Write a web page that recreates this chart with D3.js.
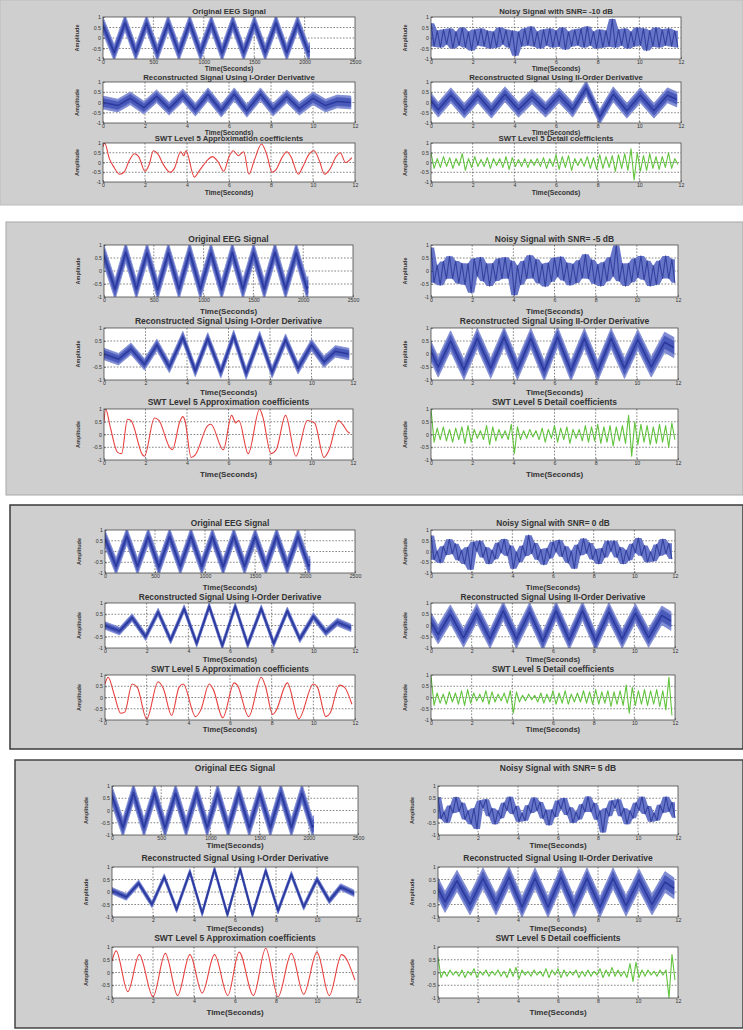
<!DOCTYPE html>
<html>
<head>
<meta charset="utf-8">
<script src="https://cdn.jsdelivr.net/npm/d3@7"></script>
<style>
html, body { margin: 0; padding: 0; background: #fff; }
svg { display: block; font-family: "Liberation Sans", Arial, sans-serif; }
</style>
</head>
<body>
<div id="chart"></div>
<script>
// ---- data ----
const snrLevels = ["-10", "-5", "0", "5"];
const yTicks = [-1, -0.5, 0, 0.5, 1];
const sampleTicks = [0, 500, 1000, 1500, 2000, 2500];
const secondTicks = [0, 2, 4, 6, 8, 10, 12];

// original EEG: turning points (sample index) and band centre
const eegSamples = [0, 111, 218, 325, 432, 539, 646, 753, 860, 967, 1074, 1181, 1288, 1395, 1502, 1609, 1716, 1823, 1930, 2037, 2048];
const eegMid = [0.6, -0.7, 0.72, -0.7, 0.7, -0.72, 0.7, -0.7, 0.72, -0.7, 0.7, -0.72, 0.72, -0.7, 0.7, -0.7, 0.72, -0.7, 0.7, -0.68, -0.6];
const eegSpread = 0.3;

// noisy signals, one sample every 0.15 s
const noisyStep = 0.15;
const noisyM10 = [0.7,-0.4,0.35,-0.45,0.4,-0.3,0.45,-0.5,0.3,-0.35, 0.5,-0.45,0.3,-0.6,0.4,-0.35,0.45,-0.4,0.35,-0.5,
  0.3,-0.45,0.5,-0.3,0.4,-0.45,0.35,-0.85,0.3,-0.4, 0.45,-0.35,0.55,-0.4,0.3,-0.5,0.4,-0.35,0.45,-0.45,
  0.35,-0.4,0.5,-0.55,0.3,-0.4,0.4,-0.35,0.45,-0.45, 0.55,-0.35,0.3,-0.5,0.4,-0.45,0.35,-0.4,0.9,-0.45,
  0.4,-0.35,0.45,-0.5,0.3,-0.4,0.5,-0.35,0.45,-0.6, 0.35,-0.4,0.5,-0.45,0.4,-0.35,0.45,-0.4,0.35,-0.45];
const noisyM5 = [0.9,-0.45,0.22,-0.55,0.37,-0.3,0.57,-0.3,0.38,-0.48, 0.3,-0.53,0.29,-0.84,0.48,-0.2,0.53,-0.39,0.29,-0.58,
  0.3,-0.38,0.48,-0.3,0.53,-0.29,0.39,-0.93,0.2,-0.53, 0.38,-0.3,0.61,-0.28,0.45,-0.47,0.27,-0.6,0.32,-0.41,
  0.51,-0.22,0.55,-0.37,0.32,-0.55,0.27,-0.46,0.41,-0.28, 0.64,-0.3,0.43,-0.49,0.25,-0.58,0.34,-0.39,0.53,-0.2,
  0.98,-0.39,0.29,-0.58,0.3,-0.43,0.48,-0.25,0.58,-0.34, 0.39,-0.58,0.2,-0.53,0.39,-0.29,0.58,-0.29,0.45,-0.45];
const noisy0 = [0.75,-0.38,0.02,-0.53,0.25,-0.16,0.57,-0.11,0.36,-0.41, 0.06,-0.58,0.2,-0.85,0.45,0.02,0.5,-0.28,0.2,-0.58,
  0.06,-0.36,0.41,-0.06,0.58,-0.2,0.28,-0.8,-0.02,-0.5, 0.27,-0.21,0.76,-0.09,0.39,-0.38,0.1,-0.62,0.15,-0.32,
  0.45,-0.02,0.54,-0.24,0.24,-0.54,0.02,-0.8,0.31,-0.17, 0.6,-0.08,0.4,-0.37,0.11,-0.58,0.15,-0.28,0.5,0.02,
  0.5,-0.28,0.2,-0.58,0.06,-0.41,0.36,-0.06,0.63,-0.2, 0.28,-0.5,-0.02,-0.45,0.33,-0.2,0.58,-0.11,0.38,-0.35];
const noisyP5 = [0.55,-0.34,-0.06,-0.5,0.2,-0.1,0.55,-0.04,0.32,-0.37, -0.01,-0.56,0.09,-0.75,0.41,0.1,0.46,-0.23,0.09,-0.56,
  -0.01,-0.32,0.32,0.01,0.56,-0.14,0.18,-0.46,-0.1,-0.42, 0.21,-0.1,0.53,-0.01,0.35,-0.33,0.03,-0.6,0.04,-0.27,
  0.41,0.06,0.51,-0.18,0.13,-0.51,-0.06,-0.37,0.26,-0.06, 0.57,-0.06,0.31,-0.38,-0.01,-0.9,0.09,-0.23,0.41,0.1,
  0.46,-0.23,0.09,-0.56,-0.01,-0.32,0.32,0.01,0.56,-0.14, 0.18,-0.46,-0.1,-0.41,0.23,-0.09,0.56,-0.04,0.34,-0.3];

// reconstructed with I-order derivative: turning points (s) and band centre
const firstOrderTimes = [0, 0.7, 1.3, 1.95, 2.55, 3.15, 3.8, 4.4, 5.0, 5.63, 6.25, 6.85, 7.5, 8.1, 8.75, 9.35, 10.0, 10.6, 11.15, 11.8];
const firstOrderM10 = [0.0,-0.15,0.2,-0.25,0.3,-0.3,0.35,-0.35,0.4,-0.4,0.4,-0.4,0.4,-0.35,0.3,-0.3,0.2,-0.15,0.05,0.0];
const firstOrderM5 = [0.0,-0.2,0.2,-0.4,0.35,-0.5,0.65,-0.65,0.6,-0.7,0.7,-0.75,0.65,-0.7,0.55,-0.55,0.35,-0.3,0.1,0.0];
const firstOrder0 = [0.0,-0.25,0.35,-0.5,0.6,-0.65,0.75,-0.8,0.85,-0.9,0.85,-0.85,0.75,-0.8,0.65,-0.6,0.4,-0.3,0.15,-0.1];
const firstOrderP5 = [0.05,-0.2,0.35,-0.5,0.6,-0.7,0.8,-0.85,0.9,-0.9,0.92,-0.9,0.85,-0.75,0.7,-0.6,0.5,-0.35,0.2,-0.05];
const firstOrderSpread = [0.24, 0.17, 0.13, 0.1];

// reconstructed with II-order derivative
const secondOrderTimes = [0, 0.35, 0.95, 1.6, 2.25, 2.9, 3.55, 4.2, 4.85, 5.5, 6.15, 6.8, 7.45, 8.1, 8.75, 9.4, 10.05, 10.7, 11.35, 11.8];
const secondOrderM10 = [0.1,-0.35,0.35,-0.4,0.35,-0.4,0.4,-0.35,0.3,-0.35,0.35,-0.35,0.7,-0.7,0.4,-0.4,0.35,-0.4,0.35,0.15];
const secondOrderM5 = [0.1,-0.5,0.5,-0.6,0.6,-0.55,0.65,-0.6,0.6,-0.65,0.65,-0.65,0.6,-0.65,0.6,-0.55,0.55,-0.5,0.45,0.25];
const secondOrder0 = [0.15,-0.4,0.5,-0.55,0.55,-0.6,0.65,-0.6,0.6,-0.7,0.65,-0.65,0.65,-0.7,0.6,-0.6,0.55,-0.55,0.45,0.2];
const secondOrderP5 = [0.15,-0.4,0.45,-0.5,0.55,-0.5,0.6,-0.6,0.55,-0.6,0.6,-0.6,0.55,-0.6,0.55,-0.55,0.5,-0.5,0.4,0.15];
const secondOrderSpread = [0.28, 0.3, 0.32, 0.32];

// SWT level 5 approximation coefficients: [time, value]
const approxM10 = [[0,0.8],[0.08,1.0],[0.3,0.2],[0.5,-0.2],[0.8,-0.6],[1.0,-0.5],[1.25,0.1],[1.5,0.45],[1.7,0.3],[2.0,-0.45],
  [2.2,-0.1],[2.4,0.6],[2.6,0.45],[2.9,-0.15],[3.2,-0.5],[3.4,-0.3],[3.7,0.55],[3.85,0.35],[3.95,0.6],[4.35,-0.75],
  [4.6,-0.4],[5.0,0.15],[5.2,0.3],[5.5,0.0],[5.75,-0.45],[6.0,0.3],[6.2,0.6],[6.45,0.35],[6.7,0.55],[6.95,-0.6],
  [7.2,0.1],[7.55,0.95],[7.8,0.4],[8.05,-0.5],[8.25,-0.35],[8.5,0.2],[8.75,0.55],[8.95,0.3],[9.3,-0.6],[9.5,-0.25],
  [9.8,0.4],[10.05,0.6],[10.3,0.1],[10.55,-0.6],[10.8,-0.35],[11.1,0.3],[11.3,0.5],[11.55,0.0],[11.85,0.25]];
const approxM5 = [[0,0.5],[0.08,1.0],[0.3,0.3],[0.65,-0.7],[0.85,-0.75],[1.13,0.6],[1.3,0.55],[1.86,-0.8],[1.95,-0.85],[2.43,0.65],
  [2.65,0.55],[3.16,-0.5],[3.3,-0.6],[3.65,0.5],[3.8,0.7],[3.9,0.55],[4.2,-0.9],[4.4,-0.8],[5.0,0.35],[5.15,0.4],
  [5.75,-0.6],[6.15,0.75],[6.35,0.45],[6.5,0.55],[6.95,-0.75],[7.5,1.0],[7.65,0.7],[8.05,-0.75],[8.3,-0.6],[8.75,0.75],
  [9.25,-0.85],[9.8,0.55],[10.15,0.45],[10.6,-0.9],[10.85,-0.6],[11.3,0.55],[11.5,0.4],[11.75,0.1],[11.85,0.05]];
const approx0 = [[0,0.6],[0.15,0.9],[0.45,0.1],[0.75,-0.7],[0.95,-0.65],[1.3,0.6],[1.55,0.45],[2.0,-0.95],[2.55,0.7],[2.8,0.4],
  [3.2,-0.8],[3.55,0.45],[3.75,0.6],[4.35,-0.85],[4.6,-0.55],[5.0,0.6],[5.2,0.35],[5.65,-0.9],[6.2,0.65],[6.35,0.55],
  [6.9,-0.85],[7.5,0.9],[7.7,0.5],[8.05,-0.75],[8.2,-0.6],[8.75,0.65],[9.3,-0.95],[10.0,0.6],[10.2,0.45],[10.6,-0.85],
  [10.8,-0.7],[11.25,0.55],[11.5,0.45],[11.85,-0.3]];
const approxP5 = [[0,0.45],[0.2,0.85],[0.77,-0.75],[1.33,0.7],[2.0,-0.95],[2.6,0.75],[3.2,-0.9],[3.8,0.7],[4.4,-0.8],[5.0,0.7],
  [5.65,-0.9],[6.2,0.8],[6.9,-0.9],[7.5,0.95],[8.1,-0.95],[8.75,0.75],[9.35,-0.85],[10.0,0.8],[10.6,-0.9],[11.2,0.7],[11.85,-0.3]];

// SWT level 5 detail coefficients, one sample every 0.15 s
const detailM10 = [0.5,-0.3,0.2,-0.25,0.3,-0.2,0.25,-0.3,0.2,-0.15, 0.45,-0.4,0.2,-0.25,0.3,-0.2,0.15,-0.2,0.25,-0.3,
  0.2,-0.15,0.2,-0.25,0.3,-0.35,0.25,-0.2,0.15,-0.2, 0.2,-0.25,0.15,-0.15,0.2,-0.2,0.25,-0.3,0.2,-0.2,
  0.4,-0.35,0.3,-0.25,0.35,-0.4,0.2,-0.15,0.2,-0.2, 0.3,-0.3,0.25,-0.35,0.4,-0.3,0.3,-0.25,0.35,-0.45,
  0.4,-0.3,0.45,-0.4,0.7,-0.9,0.5,-0.45,0.35,-0.4, 0.45,-0.3,0.3,-0.35,0.3,-0.25,0.5,-0.3,0.2,-0.1];
const detailM5 = [1.0,-0.3,0.25,-0.2,0.3,-0.25,0.2,-0.3,0.25,-0.2, 0.3,-0.35,0.35,-0.3,0.2,-0.15,0.15,-0.2,0.35,-0.4,
  0.3,-0.25,0.2,-0.15,0.15,-0.2,0.4,-0.75,0.3,-0.2, 0.15,-0.15,0.2,-0.1,0.15,-0.2,0.25,-0.3,0.2,-0.15,
  0.35,-0.3,0.25,-0.2,0.3,-0.35,0.2,-0.15,0.2,-0.25, 0.35,-0.3,0.3,-0.25,0.4,-0.35,0.3,-0.3,0.35,-0.45,
  0.3,-0.25,0.35,-0.35,0.75,-0.85,0.5,-0.4,0.4,-0.3, 0.35,-0.4,0.3,-0.35,0.4,-0.3,0.35,-0.5,0.45,-0.2];
const detail0 = [0.95,-0.35,0.2,-0.25,0.15,-0.3,0.25,-0.2,0.2,-0.3, 0.3,-0.35,0.35,-0.25,0.2,-0.15,0.15,-0.2,0.3,-0.3,
  0.25,-0.2,0.15,-0.15,0.2,-0.25,0.3,-0.7,0.25,-0.2, 0.1,-0.15,0.15,-0.1,0.1,-0.2,0.2,-0.25,0.15,-0.2,
  0.3,-0.3,0.2,-0.25,0.3,-0.3,0.15,-0.2,0.2,-0.2, 0.3,-0.25,0.25,-0.3,0.35,-0.3,0.25,-0.25,0.3,-0.4,
  0.25,-0.3,0.3,-0.35,0.55,-0.7,0.45,-0.35,0.3,-0.3, 0.35,-0.35,0.3,-0.3,0.35,-0.4,0.3,-0.55,0.9,-0.8];
const detailP5 = [0.6,-0.2,0.05,-0.15,0.1,-0.1,0.05,-0.15,0.1,-0.2, 0.05,-0.1,0.15,-0.2,0.05,-0.1,0.1,-0.15,0.05,-0.1,
  0.1,-0.15,0.05,-0.2,0.15,-0.15,0.2,-0.25,0.1,-0.1, 0.05,-0.15,0.1,-0.1,0.05,-0.15,0.15,-0.2,0.1,-0.1,
  0.15,-0.2,0.1,-0.15,0.05,-0.1,0.1,-0.2,0.05,-0.15, 0.1,-0.15,0.05,-0.1,0.15,-0.2,0.1,-0.15,0.2,-0.15,
  0.1,-0.15,0.05,-0.2,0.35,-0.35,0.4,-0.2,0.1,-0.15, 0.1,-0.1,0.05,-0.15,0.1,-0.1,0.1,-1.0,0.7,-0.3];

const noisyAll = [noisyM10, noisyM5, noisy0, noisyP5];
const firstOrderAll = [firstOrderM10, firstOrderM5, firstOrder0, firstOrderP5];
const secondOrderAll = [secondOrderM10, secondOrderM5, secondOrder0, secondOrderP5];
const approxAll = [approxM10, approxM5, approx0, approxP5];
const detailAll = [detailM10, detailM5, detail0, detailP5];

// ---- layout of the four screenshot panels ----
const panels = [
  { frame: [0, 0, 743, 205], stroke: "#bcbcbc", sw: 1, left: [103, 355], right: [431, 681], titleSize: 7.8, labelSize: 6.8,
    rows: [{ top: 17, bot: 59, title: 14, xlab: 70.5 }, { top: 82, bot: 123, title: 79.5, xlab: 134.5 }, { top: 143, bot: 182, title: 141, xlab: 195 }] },
  { frame: [6, 222, 737, 273], stroke: "#a8a8a8", sw: 1, left: [104, 353], right: [431, 678], titleSize: 8.5, labelSize: 8,
    rows: [{ top: 245, bot: 297, title: 242, xlab: 314 }, { top: 328, bot: 380, title: 324, xlab: 395 }, { top: 409, bot: 460, title: 405, xlab: 477 }] },
  { frame: [10, 505, 733, 244], stroke: "#3a3a3a", sw: 1.5, left: [105, 355], right: [431, 675], titleSize: 8.3, labelSize: 7.6,
    rows: [{ top: 530, bot: 573, title: 526, xlab: 590 }, { top: 603, bot: 648, title: 600, xlab: 662 }, { top: 675, bot: 720, title: 671.5, xlab: 732 }] },
  { frame: [15, 760, 728, 268], stroke: "#444", sw: 1.5, left: [112, 358], right: [438, 678], titleSize: 8.5, labelSize: 8,
    rows: [{ top: 786, bot: 835, title: 771, xlab: 848 }, { top: 867, bot: 917, title: 861, xlab: 931 }, { top: 947, bot: 998, title: 941, xlab: 1015 }] }
];

const blueHalo = "#7f8bd3", blueFill = "#4a5aba", blueCore = "#2c3a9e";

const svg = d3.select("#chart").append("svg")
  .attr("width", 743)
  .attr("height", 1030);

let clipCount = 0;

// one subplot: frame, grid, signal via callback, axes, labels
function subplot(p, xr, row, xDomain, xTicks, title, drawSignal) {
  const x = d3.scaleLinear().domain(xDomain).range(xr);
  const y = d3.scaleLinear().domain([-1, 1]).range([row.bot, row.top]);
  const g = svg.append("g");

  g.append("rect")
    .attr("x", xr[0]).attr("y", row.top)
    .attr("width", xr[1] - xr[0]).attr("height", row.bot - row.top)
    .attr("fill", "#fff");

  const grid = g.append("g")
    .attr("stroke", "#333")
    .attr("stroke-width", 0.6)
    .attr("stroke-dasharray", "1.6,1.6");
  grid.selectAll(".gx").data(xTicks.slice(1, -1)).enter().append("line")
    .attr("x1", d => x(d)).attr("x2", d => x(d))
    .attr("y1", row.top).attr("y2", row.bot);
  grid.selectAll(".gy").data(yTicks.slice(1, -1)).enter().append("line")
    .attr("x1", xr[0]).attr("x2", xr[1])
    .attr("y1", d => y(d)).attr("y2", d => y(d));

  const id = "clip" + (clipCount++);
  g.append("clipPath").attr("id", id).append("rect")
    .attr("x", xr[0]).attr("y", row.top)
    .attr("width", xr[1] - xr[0]).attr("height", row.bot - row.top);
  const layer = g.append("g").attr("clip-path", `url(#${id})`);
  drawSignal(layer, x, y);

  g.append("rect")
    .attr("x", xr[0]).attr("y", row.top)
    .attr("width", xr[1] - xr[0]).attr("height", row.bot - row.top)
    .attr("fill", "none").attr("stroke", "#333").attr("stroke-width", 0.7);

  const xAxis = g.append("g")
    .attr("transform", `translate(0,${row.bot})`)
    .call(d3.axisBottom(x).tickValues(xTicks).tickSize(-2).tickPadding(1.5).tickFormat(d3.format("d")));
  const yAxis = g.append("g")
    .attr("transform", `translate(${xr[0]},0)`)
    .call(d3.axisLeft(y).tickValues(yTicks).tickSize(-2).tickPadding(2).tickFormat(d => String(d)));
  [xAxis, yAxis].forEach(a => {
    a.select(".domain").remove();
    a.attr("font-family", null).attr("font-size", 5.2);
    a.selectAll("line").attr("stroke", "#333").attr("stroke-width", 0.5);
    a.selectAll("text").attr("fill", "#333");
  });

  const cx = (xr[0] + xr[1]) / 2;
  g.append("text")
    .attr("x", cx).attr("y", row.title)
    .attr("text-anchor", "middle")
    .attr("font-size", p.titleSize).attr("font-weight", "bold").attr("fill", "#333")
    .text(title);
  g.append("text")
    .attr("x", cx).attr("y", row.xlab)
    .attr("text-anchor", "middle")
    .attr("font-size", p.labelSize).attr("font-weight", "bold").attr("fill", "#333")
    .text("Time(Seconds)");
  g.append("text")
    .attr("transform", `translate(${xr[0] - 24},${(row.top + row.bot) / 2}) rotate(-90)`)
    .attr("text-anchor", "middle")
    .attr("font-size", 5.5).attr("font-weight", "bold").attr("fill", "#333")
    .text("Amplitude");
}

// thick noisy band around turning points
function band(layer, x, y, times, mids, spread) {
  const areaOf = s => d3.area()
    .x((d, i) => x(times[i]))
    .y0(d => y(d - s))
    .y1(d => y(d + s));
  layer.append("path").datum(mids)
    .attr("d", areaOf(spread * 1.3))
    .attr("fill", blueHalo).attr("stroke", blueHalo).attr("stroke-width", 0.8);
  layer.append("path").datum(mids)
    .attr("d", areaOf(spread * 0.8))
    .attr("fill", blueFill).attr("stroke", blueFill).attr("stroke-width", 0.6);
  const line = d3.line().x((d, i) => x(times[i])).y(d => y(d));
  layer.append("path").datum(mids)
    .attr("d", line)
    .attr("fill", "none").attr("stroke", blueCore).attr("stroke-width", 1.6)
    .attr("stroke-linejoin", "round");
}

// sampled trace, optionally with its local envelope filled in
function sampled(layer, x, y, vals, fill, color, width) {
  if (fill) {
    const lo = vals.map((v, i) => d3.min(vals.slice(Math.max(0, i - 1), i + 2)));
    const hi = vals.map((v, i) => d3.max(vals.slice(Math.max(0, i - 1), i + 2)));
    const env = d3.area()
      .x((d, i) => x(i * noisyStep))
      .y0((d, i) => y(lo[i]))
      .y1((d, i) => y(hi[i]));
    layer.append("path").datum(vals)
      .attr("d", env)
      .attr("fill", fill);
  }
  const line = d3.line().x((d, i) => x(i * noisyStep)).y(d => y(d));
  layer.append("path").datum(vals)
    .attr("d", line)
    .attr("fill", "none").attr("stroke", color).attr("stroke-width", width)
    .attr("stroke-linejoin", "round");
}

panels.forEach((p, i) => {
  svg.append("rect")
    .attr("x", p.frame[0]).attr("y", p.frame[1])
    .attr("width", p.frame[2]).attr("height", p.frame[3])
    .attr("fill", "#cfcfcf")
    .attr("stroke", p.stroke).attr("stroke-width", p.sw);

  subplot(p, p.left, p.rows[0], [0, 2500], sampleTicks, "Original EEG Signal",
    (layer, x, y) => band(layer, x, y, eegSamples, eegMid, eegSpread));

  subplot(p, p.right, p.rows[0], [0, 12], secondTicks, `Noisy Signal with SNR= ${snrLevels[i]} dB`,
    (layer, x, y) => sampled(layer, x, y, noisyAll[i], "#6775c8", "#34429f", 1.1));

  subplot(p, p.left, p.rows[1], [0, 12], secondTicks, "Reconstructed Signal Using I-Order Derivative",
    (layer, x, y) => band(layer, x, y, firstOrderTimes, firstOrderAll[i], firstOrderSpread[i]));

  subplot(p, p.right, p.rows[1], [0, 12], secondTicks, "Reconstructed Signal Using II-Order Derivative",
    (layer, x, y) => band(layer, x, y, secondOrderTimes, secondOrderAll[i], secondOrderSpread[i]));

  subplot(p, p.left, p.rows[2], [0, 12], secondTicks, "SWT Level 5 Approximation coefficients",
    (layer, x, y) => {
      const line = d3.line().x(d => x(d[0])).y(d => y(d[1])).curve(d3.curveMonotoneX);
      layer.append("path").datum(approxAll[i])
        .attr("d", line)
        .attr("fill", "none").attr("stroke", "#e6413f").attr("stroke-width", 1.1);
    });

  subplot(p, p.right, p.rows[2], [0, 12], secondTicks, "SWT Level 5 Detail coefficients",
    (layer, x, y) => sampled(layer, x, y, detailAll[i], null, "#62c43e", 1.1));
});
</script>
</body>
</html>
